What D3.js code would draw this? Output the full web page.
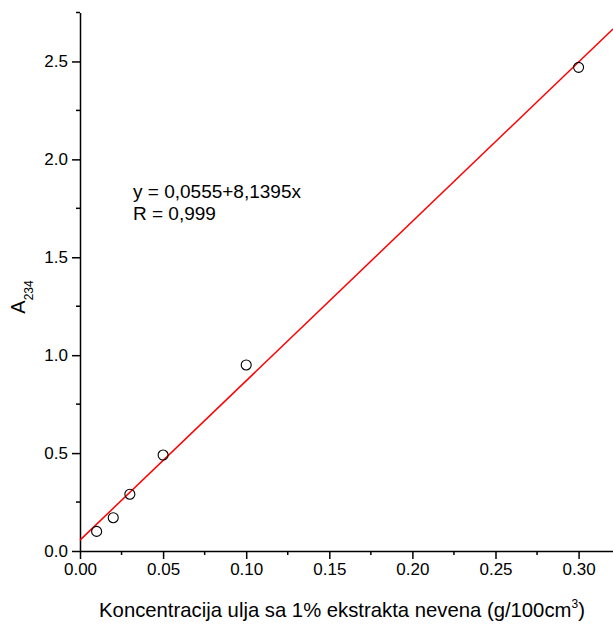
<!DOCTYPE html>
<html>
<head>
<meta charset="utf-8">
<script src="https://cdn.jsdelivr.net/npm/d3@7"></script>
<style>
  body { margin: 0; background: #fff; }
  text { font-family: Arial, "Liberation Sans", sans-serif; fill: #000; }
</style>
</head>
<body>
<svg id="chart" width="613" height="624"></svg>
<script>
// measured points (concentration vs absorbance)
const concentration = [0.01, 0.02, 0.03, 0.05, 0.10, 0.30];
const absorbance = [0.10, 0.17, 0.29, 0.49, 0.95, 2.47];

// linear fit shown on the chart
const intercept = 0.0555;
const slope = 8.1395;
const fitLabels = ["y = 0,0555+8,1395x", "R = 0,999"];

const xTicks = [0, 0.05, 0.10, 0.15, 0.20, 0.25, 0.30];
const yTicks = [0, 0.5, 1.0, 1.5, 2.0, 2.5];

const svg = d3.select("#chart");
const plotLeft = 80, plotBottom = 551, plotRight = 613, plotTop = 12.5;

const x = d3.scaleLinear().domain([0, 0.3207]).range([plotLeft, plotRight]);
const y = d3.scaleLinear().domain([0, 2.75]).range([plotBottom, plotTop]);

// minor ticks
const xMinor = d3.range(0.025, 0.32, 0.05);
const yMinor = d3.range(0.25, 2.8, 0.5);

const xAxis = svg.append("g").attr("transform", `translate(0,${plotBottom})`);
xAxis.call(d3.axisBottom(x).tickValues(xTicks).tickFormat(d3.format(".2f"))
    .tickSizeInner(8).tickSizeOuter(0).tickPadding(4));
xAxis.append("g").selectAll("line").data(xMinor).enter().append("line")
    .attr("x1", d => x(d)).attr("x2", d => x(d))
    .attr("y1", 0).attr("y2", 4).attr("stroke", "#000").attr("stroke-width", 1.5);

const yAxis = svg.append("g").attr("transform", `translate(${plotLeft},0)`);
yAxis.call(d3.axisLeft(y).tickValues(yTicks).tickFormat(d3.format(".1f"))
    .tickSizeInner(8).tickSizeOuter(0).tickPadding(4));
yAxis.append("g").selectAll("line").data(yMinor).enter().append("line")
    .attr("y1", d => y(d)).attr("y2", d => y(d))
    .attr("x1", 0).attr("x2", -4).attr("stroke", "#000").attr("stroke-width", 1.5);

svg.selectAll(".domain").attr("stroke", "#000").attr("stroke-width", 1.5);
svg.selectAll(".tick line").attr("stroke", "#000").attr("stroke-width", 1.5);
svg.selectAll(".tick text").style("font-size", "17px");

// fit line
const xMax = x.domain()[1];
svg.append("line")
    .attr("x1", x(0)).attr("y1", y(intercept))
    .attr("x2", x(xMax)).attr("y2", y(intercept + slope * xMax))
    .attr("stroke", "#ff0000").attr("stroke-width", 1.5);

// data points
svg.selectAll("circle.pt").data(concentration).enter().append("circle")
    .attr("class", "pt")
    .attr("cx", d => x(d))
    .attr("cy", (d, i) => y(absorbance[i]))
    .attr("r", 5)
    .attr("fill", "none").attr("stroke", "#000").attr("stroke-width", 1.1);

// equation text
svg.selectAll("text.fit").data(fitLabels).enter().append("text")
    .attr("class", "fit")
    .attr("x", 133).attr("y", (d, i) => 198 + i * 22)
    .style("font-size", "19px")
    .text(d => d);

// axis titles
const xt = svg.append("text").attr("x", 342).attr("y", 617)
    .attr("text-anchor", "middle").style("font-size", "20.3px");
xt.append("tspan").text("Koncentracija ulja sa 1% ekstrakta nevena (g/100cm");
xt.append("tspan").attr("dy", -9).style("font-size", "12px").text("3");
xt.append("tspan").attr("dy", 9).text(")");

const yt = svg.append("text").attr("transform", "translate(25,297) rotate(-90)")
    .attr("text-anchor", "middle").style("font-size", "20px");
yt.append("tspan").text("A");
yt.append("tspan").attr("dy", 8).style("font-size", "12px").text("234");
</script>
</body>
</html>
